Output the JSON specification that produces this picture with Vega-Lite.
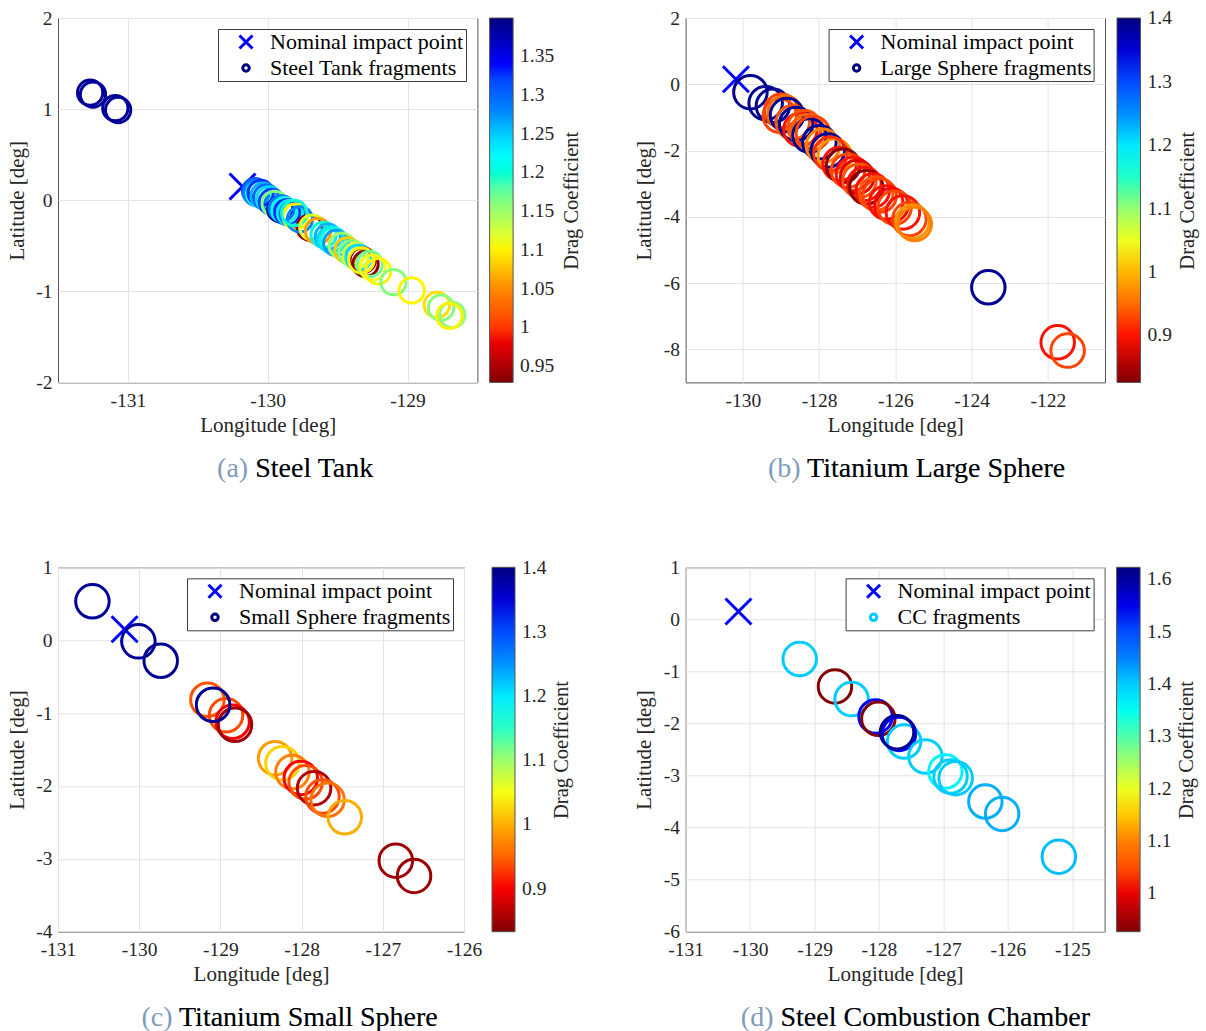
{
  "$schema": "https://vega.github.io/schema/vega-lite/v6.json",
  "background": "white",
  "padding": {"left": 5, "top": 7, "right": 5, "bottom": 5},
  "columns": 2,
  "spacing": {"row": 184.3, "column": 207.6},
  "bounds": "flush",
  "align": "all",
  "resolve": {
    "scale": {"x": "independent", "y": "independent", "stroke": "independent", "color": "independent", "shape": "independent"},
    "legend": {"stroke": "independent", "color": "independent", "shape": "independent"}
  },
  "config": {
    "font": "Liberation Serif",
    "view": {"stroke": "#555555", "strokeWidth": 1},
    "axis": {
      "grid": true, "gridColor": "#e3e3e3", "gridWidth": 1,
      "domain": false, "ticks": false,
      "labelFont": "Liberation Serif", "labelFontSize": 19.5, "labelColor": "#262626",
      "labelFlush": false, "labelOverlap": false,
      "labelExpr": "toString(datum.value)",
      "titleFont": "Liberation Serif", "titleFontSize": 21, "titleFontWeight": "normal", "titleColor": "#262626"
    },
    "axisX": {"labelPadding": 9, "titleY": 49.3, "titleBaseline": "alphabetic"},
    "axisY": {"labelPadding": 6, "titleX": -35, "titleBaseline": "alphabetic"},
    "legend": {
      "labelFont": "Liberation Serif", "labelColor": "#000000"
    },
    "title": {"font": "Liberation Serif", "fontSize": 28, "fontWeight": "normal", "color": "#7f9bbb", "subtitleFont": "Liberation Serif", "subtitleFontSize": 28, "subtitleColor": "#000000", "subtitlePadding": -28, "orient": "bottom", "anchor": "middle", "frame": "bounds", "offset": 19}
  },
  "concat": [
    {
      "width": 419.4, "height": 364.4,
      "title": {"text": "(a) Steel Tank", "subtitle": "Steel Tank", "dx": 79.3, "align": "right"},
      "resolve": {"axis": {"y": "independent"}},
      "encoding": {
        "x": {"field": "lon", "type": "quantitative", "scale": {"domain": [-131.5, -128.5], "nice": false, "zero": false}, "axis": {"values": [-131, -130, -129], "title": "Longitude [deg]", "grid": true}},
        "shape": {"field": "kind", "type": "nominal",
          "scale": {"domain": ["Nominal impact point", "Steel Tank fragments"], "range": ["M-1,-1L1,1M-1,1L1,-1", "M0.5,0A0.5,0.5,0,1,1,-0.5,0A0.5,0.5,0,1,1,0.5,0Z"]},
          "legend": {"title": null, "orient": "top-right", "offset": 11, "padding": 2, "strokeColor": "#3c3c3c", "fillColor": "white",
            "labelFontSize": 22, "labelLimit": 500, "symbolSize": 169, "symbolStrokeWidth": 3, "symbolOffset": 15, "labelOffset": 13, "rowPadding": 2}}
      },
      "layer": [
        {"data": {"values": [{"lon": -130.18, "lat": 0.15, "kind": "Nominal impact point"}]},
         "mark": {"type": "point", "filled": false, "strokeWidth": 3, "size": 676, "opacity": 1},
         "encoding": {
           "y": {"field": "lat", "type": "quantitative", "scale": {"domain": [-2, 2], "nice": false, "zero": false},
             "axis": {"orient": "right", "labels": false, "grid": false, "title": "Drag Coefficient", "titleAngle": 270, "titleX": 100, "titleBaseline": "alphabetic", "titleFontSize": 20.5}},
           "stroke": {"field": "kind", "type": "nominal",
             "scale": {"domain": ["Nominal impact point", "Steel Tank fragments"], "range": ["#0000ff", "#000080"]},
             "legend": {"title": null, "orient": "top-right", "offset": 11, "padding": 2, "strokeColor": "#3c3c3c", "fillColor": "white",
               "labelFontSize": 22, "labelLimit": 500, "symbolSize": 169, "symbolStrokeWidth": 3, "symbolOffset": 15, "labelOffset": 13, "rowPadding": 2}}
         }},
        {"data": {"values": [
          {"lon": -131.27, "lat": 1.18, "cd": 1.39, "kind": "Steel Tank fragments"},
          {"lon": -131.25, "lat": 1.16, "cd": 1.385, "kind": "Steel Tank fragments"},
          {"lon": -131.09, "lat": 1.01, "cd": 1.39, "kind": "Steel Tank fragments"},
          {"lon": -131.07, "lat": 0.99, "cd": 1.385, "kind": "Steel Tank fragments"},
          {"lon": -130.09, "lat": 0.10, "cd": 1.31, "kind": "Steel Tank fragments"},
          {"lon": -130.08, "lat": 0.08, "cd": 1.28, "kind": "Steel Tank fragments"},
          {"lon": -130.06, "lat": 0.07, "cd": 1.22, "kind": "Steel Tank fragments"},
          {"lon": -130.05, "lat": 0.08, "cd": 1.33, "kind": "Steel Tank fragments"},
          {"lon": -130.03, "lat": 0.05, "cd": 1.26, "kind": "Steel Tank fragments"},
          {"lon": -130.01, "lat": 0.03, "cd": 1.30, "kind": "Steel Tank fragments"},
          {"lon": -129.99, "lat": 0.01, "cd": 1.24, "kind": "Steel Tank fragments"},
          {"lon": -129.97, "lat": -0.02, "cd": 1.32, "kind": "Steel Tank fragments"},
          {"lon": -129.95, "lat": -0.04, "cd": 1.16, "kind": "Steel Tank fragments"},
          {"lon": -129.91, "lat": -0.10, "cd": 1.39, "kind": "Steel Tank fragments"},
          {"lon": -129.90, "lat": -0.09, "cd": 1.29, "kind": "Steel Tank fragments"},
          {"lon": -129.88, "lat": -0.11, "cd": 1.21, "kind": "Steel Tank fragments"},
          {"lon": -129.86, "lat": -0.13, "cd": 1.33, "kind": "Steel Tank fragments"},
          {"lon": -129.84, "lat": -0.14, "cd": 1.23, "kind": "Steel Tank fragments"},
          {"lon": -129.82, "lat": -0.15, "cd": 1.30, "kind": "Steel Tank fragments"},
          {"lon": -129.80, "lat": -0.18, "cd": 1.10, "kind": "Steel Tank fragments"},
          {"lon": -129.70, "lat": -0.30, "cd": 0.935, "kind": "Steel Tank fragments"},
          {"lon": -129.77, "lat": -0.21, "cd": 1.28, "kind": "Steel Tank fragments"},
          {"lon": -129.81, "lat": -0.14, "cd": 1.20, "kind": "Steel Tank fragments"},
          {"lon": -129.68, "lat": -0.30, "cd": 1.12, "kind": "Steel Tank fragments"},
          {"lon": -129.64, "lat": -0.34, "cd": 1.06, "kind": "Steel Tank fragments"},
          {"lon": -129.60, "lat": -0.38, "cd": 1.20, "kind": "Steel Tank fragments"},
          {"lon": -129.57, "lat": -0.40, "cd": 1.26, "kind": "Steel Tank fragments"},
          {"lon": -129.55, "lat": -0.43, "cd": 1.24, "kind": "Steel Tank fragments"},
          {"lon": -129.53, "lat": -0.44, "cd": 1.21, "kind": "Steel Tank fragments"},
          {"lon": -129.51, "lat": -0.47, "cd": 1.27, "kind": "Steel Tank fragments"},
          {"lon": -129.47, "lat": -0.50, "cd": 1.15, "kind": "Steel Tank fragments"},
          {"lon": -129.43, "lat": -0.55, "cd": 1.08, "kind": "Steel Tank fragments"},
          {"lon": -129.40, "lat": -0.58, "cd": 1.16, "kind": "Steel Tank fragments"},
          {"lon": -129.37, "lat": -0.61, "cd": 1.12, "kind": "Steel Tank fragments"},
          {"lon": -129.35, "lat": -0.63, "cd": 1.24, "kind": "Steel Tank fragments"},
          {"lon": -129.30, "lat": -0.70, "cd": 0.935, "kind": "Steel Tank fragments"},
          {"lon": -129.32, "lat": -0.66, "cd": 0.94, "kind": "Steel Tank fragments"},
          {"lon": -129.33, "lat": -0.66, "cd": 1.10, "kind": "Steel Tank fragments"},
          {"lon": -129.27, "lat": -0.70, "cd": 1.17, "kind": "Steel Tank fragments"},
          {"lon": -129.25, "lat": -0.74, "cd": 1.11, "kind": "Steel Tank fragments"},
          {"lon": -129.21, "lat": -0.78, "cd": 1.10, "kind": "Steel Tank fragments"},
          {"lon": -129.10, "lat": -0.90, "cd": 1.16, "kind": "Steel Tank fragments"},
          {"lon": -128.97, "lat": -0.99, "cd": 1.10, "kind": "Steel Tank fragments"},
          {"lon": -128.79, "lat": -1.15, "cd": 1.09, "kind": "Steel Tank fragments"},
          {"lon": -128.76, "lat": -1.18, "cd": 1.16, "kind": "Steel Tank fragments"},
          {"lon": -128.68, "lat": -1.26, "cd": 1.16, "kind": "Steel Tank fragments"},
          {"lon": -128.70, "lat": -1.27, "cd": 1.10, "kind": "Steel Tank fragments"}
         ]},
         "mark": {"type": "point", "filled": false, "strokeWidth": 3, "size": 2560, "opacity": 1},
         "encoding": {
           "y": {"field": "lat", "type": "quantitative", "scale": {"domain": [-2, 2], "nice": false, "zero": false}, "axis": {"values": [-2, -1, 0, 1, 2], "title": "Latitude [deg]", "grid": true}},
           "color": {"field": "cd", "type": "quantitative",
             "scale": {"domain": [0.929, 0.98775, 1.0465, 1.10525, 1.164, 1.22275, 1.2815, 1.34025, 1.399], "range": ["#800000", "#ff0000", "#ff8000", "#ffff00", "#80ff80", "#00ffff", "#0080ff", "#0000ff", "#000080"], "nice": false, "zero": false},
             "legend": {"type": "gradient", "direction": "vertical", "orient": "none", "legendX": 431.6, "legendY": 0, "padding": 0, "title": null,
               "gradientLength": 364.4, "gradientThickness": 23.5, "gradientStrokeColor": "#555555", "gradientStrokeWidth": 1,
               "values": [0.95, 1, 1.05, 1.1, 1.15, 1.2, 1.25, 1.3, 1.35],
               "labelExpr": "toString(datum.value)", "labelFontSize": 19.5, "labelColor": "#262626", "labelOffset": 7, "labelOverlap": false}}
         }}
      ]
    },
    {
      "width": 419.4, "height": 364.4,
      "title": {"text": "(b) Titanium Large Sphere", "subtitle": "Titanium Large Sphere", "dx": 149.7, "align": "right"},
      "resolve": {"axis": {"y": "independent"}},
      "encoding": {
        "x": {"field": "lon", "type": "quantitative", "scale": {"domain": [-131.5, -120.5], "nice": false, "zero": false}, "axis": {"values": [-130, -128, -126, -124, -122], "title": "Longitude [deg]", "grid": true}},
        "shape": {"field": "kind", "type": "nominal",
          "scale": {"domain": ["Nominal impact point", "Large Sphere fragments"], "range": ["M-1,-1L1,1M-1,1L1,-1", "M0.5,0A0.5,0.5,0,1,1,-0.5,0A0.5,0.5,0,1,1,0.5,0Z"]},
          "legend": {"title": null, "orient": "top-right", "offset": 11, "padding": 2, "strokeColor": "#3c3c3c", "fillColor": "white",
            "labelFontSize": 22, "labelLimit": 500, "symbolSize": 169, "symbolStrokeWidth": 3, "symbolOffset": 15, "labelOffset": 13, "rowPadding": 2}}
      },
      "layer": [
        {"data": {"values": [{"lon": -130.18, "lat": 0.15, "kind": "Nominal impact point"}]},
         "mark": {"type": "point", "filled": false, "strokeWidth": 3, "size": 676, "opacity": 1},
         "encoding": {
           "y": {"field": "lat", "type": "quantitative", "scale": {"domain": [-9, 2], "nice": false, "zero": false},
             "axis": {"orient": "right", "labels": false, "grid": false, "title": "Drag Coefficient", "titleAngle": 270, "titleX": 88.1, "titleBaseline": "alphabetic", "titleFontSize": 20.5}},
           "stroke": {"field": "kind", "type": "nominal",
             "scale": {"domain": ["Nominal impact point", "Large Sphere fragments"], "range": ["#0000ff", "#000080"]},
             "legend": {"title": null, "orient": "top-right", "offset": 11, "padding": 2, "strokeColor": "#3c3c3c", "fillColor": "white",
               "labelFontSize": 22, "labelLimit": 500, "symbolSize": 169, "symbolStrokeWidth": 3, "symbolOffset": 15, "labelOffset": 13, "rowPadding": 2}}
         }},
        {"data": {"values": [
          {"lon": -129.80, "lat": -0.24, "cd": 1.39, "kind": "Large Sphere fragments"},
          {"lon": -129.40, "lat": -0.57, "cd": 1.39, "kind": "Large Sphere fragments"},
          {"lon": -129.21, "lat": -0.65, "cd": 1.39, "kind": "Large Sphere fragments"},
          {"lon": -129.03, "lat": -0.95, "cd": 0.92, "kind": "Large Sphere fragments"},
          {"lon": -128.99, "lat": -0.80, "cd": 0.92, "kind": "Large Sphere fragments"},
          {"lon": -128.90, "lat": -0.85, "cd": 0.95, "kind": "Large Sphere fragments"},
          {"lon": -128.84, "lat": -0.93, "cd": 1.39, "kind": "Large Sphere fragments"},
          {"lon": -128.69, "lat": -1.15, "cd": 0.93, "kind": "Large Sphere fragments"},
          {"lon": -128.60, "lat": -1.20, "cd": 1.39, "kind": "Large Sphere fragments"},
          {"lon": -128.49, "lat": -1.37, "cd": 0.90, "kind": "Large Sphere fragments"},
          {"lon": -128.38, "lat": -1.30, "cd": 0.93, "kind": "Large Sphere fragments"},
          {"lon": -128.30, "lat": -1.42, "cd": 0.94, "kind": "Large Sphere fragments"},
          {"lon": -128.25, "lat": -1.55, "cd": 1.39, "kind": "Large Sphere fragments"},
          {"lon": -128.16, "lat": -1.47, "cd": 0.92, "kind": "Large Sphere fragments"},
          {"lon": -127.99, "lat": -1.75, "cd": 1.39, "kind": "Large Sphere fragments"},
          {"lon": -127.90, "lat": -1.86, "cd": 0.97, "kind": "Large Sphere fragments"},
          {"lon": -127.77, "lat": -2.00, "cd": 1.39, "kind": "Large Sphere fragments"},
          {"lon": -127.59, "lat": -2.16, "cd": 0.98, "kind": "Large Sphere fragments"},
          {"lon": -127.70, "lat": -2.10, "cd": 0.91, "kind": "Large Sphere fragments"},
          {"lon": -127.46, "lat": -2.41, "cd": 0.90, "kind": "Large Sphere fragments"},
          {"lon": -127.37, "lat": -2.46, "cd": 0.83, "kind": "Large Sphere fragments"},
          {"lon": -127.24, "lat": -2.61, "cd": 0.92, "kind": "Large Sphere fragments"},
          {"lon": -127.11, "lat": -2.71, "cd": 0.90, "kind": "Large Sphere fragments"},
          {"lon": -127.00, "lat": -2.80, "cd": 0.88, "kind": "Large Sphere fragments"},
          {"lon": -126.94, "lat": -2.91, "cd": 0.93, "kind": "Large Sphere fragments"},
          {"lon": -126.81, "lat": -3.01, "cd": 0.90, "kind": "Large Sphere fragments"},
          {"lon": -126.76, "lat": -3.11, "cd": 0.83, "kind": "Large Sphere fragments"},
          {"lon": -126.59, "lat": -3.21, "cd": 0.90, "kind": "Large Sphere fragments"},
          {"lon": -126.50, "lat": -3.30, "cd": 0.93, "kind": "Large Sphere fragments"},
          {"lon": -126.41, "lat": -3.36, "cd": 0.92, "kind": "Large Sphere fragments"},
          {"lon": -126.24, "lat": -3.57, "cd": 0.90, "kind": "Large Sphere fragments"},
          {"lon": -126.10, "lat": -3.65, "cd": 0.895, "kind": "Large Sphere fragments"},
          {"lon": -126.02, "lat": -3.72, "cd": 0.92, "kind": "Large Sphere fragments"},
          {"lon": -125.80, "lat": -3.87, "cd": 0.90, "kind": "Large Sphere fragments"},
          {"lon": -125.63, "lat": -4.07, "cd": 0.92, "kind": "Large Sphere fragments"},
          {"lon": -125.55, "lat": -4.15, "cd": 0.98, "kind": "Large Sphere fragments"},
          {"lon": -125.49, "lat": -4.22, "cd": 0.97, "kind": "Large Sphere fragments"},
          {"lon": -123.56, "lat": -6.13, "cd": 1.39, "kind": "Large Sphere fragments"},
          {"lon": -121.74, "lat": -7.79, "cd": 0.90, "kind": "Large Sphere fragments"},
          {"lon": -121.48, "lat": -8.04, "cd": 0.92, "kind": "Large Sphere fragments"}
         ]},
         "mark": {"type": "point", "filled": false, "strokeWidth": 3, "size": 4489, "opacity": 1},
         "encoding": {
           "y": {"field": "lat", "type": "quantitative", "scale": {"domain": [-9, 2], "nice": false, "zero": false}, "axis": {"values": [-8, -6, -4, -2, 0, 2], "title": "Latitude [deg]", "grid": true}},
           "color": {"field": "cd", "type": "quantitative",
             "scale": {"domain": [0.826, 0.89775, 0.9695, 1.04125, 1.113, 1.18475, 1.2565, 1.32825, 1.4005], "range": ["#800000", "#ff0000", "#ff8000", "#ffff00", "#80ff80", "#00ffff", "#0080ff", "#0000ff", "#000080"], "nice": false, "zero": false},
             "legend": {"type": "gradient", "direction": "vertical", "orient": "none", "legendX": 431.4, "legendY": 0, "padding": 0, "title": null,
               "gradientLength": 364.4, "gradientThickness": 23.5, "gradientStrokeColor": "#555555", "gradientStrokeWidth": 1,
               "values": [0.9, 1, 1.1, 1.2, 1.3, 1.4],
               "labelExpr": "toString(datum.value)", "labelFontSize": 19.5, "labelColor": "#262626", "labelOffset": 7, "labelOverlap": false}}
         }}
      ]
    },
    {
      "width": 406, "height": 364.4,
      "title": {"text": "(c) Titanium Small Sphere", "subtitle": "Titanium Small Sphere", "dx": 149, "align": "right"},
      "resolve": {"axis": {"y": "independent"}},
      "encoding": {
        "x": {"field": "lon", "type": "quantitative", "scale": {"domain": [-131, -126], "nice": false, "zero": false}, "axis": {"values": [-131, -130, -129, -128, -127, -126], "title": "Longitude [deg]", "grid": true}},
        "shape": {"field": "kind", "type": "nominal",
          "scale": {"domain": ["Nominal impact point", "Small Sphere fragments"], "range": ["M-1,-1L1,1M-1,1L1,-1", "M0.5,0A0.5,0.5,0,1,1,-0.5,0A0.5,0.5,0,1,1,0.5,0Z"]},
          "legend": {"title": null, "orient": "top-right", "offset": 11, "padding": 2, "strokeColor": "#3c3c3c", "fillColor": "white",
            "labelFontSize": 22, "labelLimit": 500, "symbolSize": 169, "symbolStrokeWidth": 3, "symbolOffset": 15, "labelOffset": 13, "rowPadding": 2}}
      },
      "layer": [
        {"data": {"values": [{"lon": -130.18, "lat": 0.15, "kind": "Nominal impact point"}]},
         "mark": {"type": "point", "filled": false, "strokeWidth": 3, "size": 676, "opacity": 1},
         "encoding": {
           "y": {"field": "lat", "type": "quantitative", "scale": {"domain": [-4, 1], "nice": false, "zero": false},
             "axis": {"orient": "right", "labels": false, "grid": false, "title": "Drag Coefficient", "titleAngle": 270, "titleX": 103, "titleBaseline": "alphabetic", "titleFontSize": 20.5}},
           "stroke": {"field": "kind", "type": "nominal",
             "scale": {"domain": ["Nominal impact point", "Small Sphere fragments"], "range": ["#0000ff", "#000080"]},
             "legend": {"title": null, "orient": "top-right", "offset": 11, "padding": 2, "strokeColor": "#3c3c3c", "fillColor": "white",
               "labelFontSize": 22, "labelLimit": 500, "symbolSize": 169, "symbolStrokeWidth": 3, "symbolOffset": 15, "labelOffset": 13, "rowPadding": 2}}
         }},
        {"data": {"values": [
          {"lon": -130.576, "lat": 0.533, "cd": 1.385, "kind": "Small Sphere fragments"},
          {"lon": -130.01, "lat": -0.016, "cd": 1.385, "kind": "Small Sphere fragments"},
          {"lon": -129.735, "lat": -0.282, "cd": 1.39, "kind": "Small Sphere fragments"},
          {"lon": -129.16, "lat": -0.817, "cd": 0.935, "kind": "Small Sphere fragments"},
          {"lon": -128.93, "lat": -1.03, "cd": 0.93, "kind": "Small Sphere fragments"},
          {"lon": -128.85, "lat": -1.12, "cd": 0.90, "kind": "Small Sphere fragments"},
          {"lon": -128.82, "lat": -1.16, "cd": 0.85, "kind": "Small Sphere fragments"},
          {"lon": -129.09, "lat": -0.886, "cd": 1.39, "kind": "Small Sphere fragments"},
          {"lon": -128.327, "lat": -1.619, "cd": 0.99, "kind": "Small Sphere fragments"},
          {"lon": -128.236, "lat": -1.688, "cd": 1.02, "kind": "Small Sphere fragments"},
          {"lon": -128.113, "lat": -1.81, "cd": 0.975, "kind": "Small Sphere fragments"},
          {"lon": -128.01, "lat": -1.89, "cd": 0.90, "kind": "Small Sphere fragments"},
          {"lon": -127.95, "lat": -1.95, "cd": 0.93, "kind": "Small Sphere fragments"},
          {"lon": -127.846, "lat": -2.03, "cd": 0.86, "kind": "Small Sphere fragments"},
          {"lon": -127.743, "lat": -2.146, "cd": 0.93, "kind": "Small Sphere fragments"},
          {"lon": -127.68, "lat": -2.19, "cd": 0.96, "kind": "Small Sphere fragments"},
          {"lon": -127.468, "lat": -2.43, "cd": 1.0, "kind": "Small Sphere fragments"},
          {"lon": -126.84, "lat": -3.025, "cd": 0.85, "kind": "Small Sphere fragments"},
          {"lon": -126.615, "lat": -3.235, "cd": 0.85, "kind": "Small Sphere fragments"}
         ]},
         "mark": {"type": "point", "filled": false, "strokeWidth": 3, "size": 4489, "opacity": 1},
         "encoding": {
           "y": {"field": "lat", "type": "quantitative", "scale": {"domain": [-4, 1], "nice": false, "zero": false}, "axis": {"values": [-4, -3, -2, -1, 0, 1], "title": "Latitude [deg]", "grid": true}},
           "color": {"field": "cd", "type": "quantitative",
             "scale": {"domain": [0.833, 0.903875, 0.97475, 1.045625, 1.1165, 1.187375, 1.25825, 1.329125, 1.4005], "range": ["#800000", "#ff0000", "#ff8000", "#ffff00", "#80ff80", "#00ffff", "#0080ff", "#0000ff", "#000080"], "nice": false, "zero": false},
             "legend": {"type": "gradient", "direction": "vertical", "orient": "none", "legendX": 434, "legendY": 0, "padding": 0, "title": null,
               "gradientLength": 364.4, "gradientThickness": 23, "gradientStrokeColor": "#555555", "gradientStrokeWidth": 1,
               "values": [0.9, 1, 1.1, 1.2, 1.3, 1.4],
               "labelExpr": "toString(datum.value)", "labelFontSize": 19.5, "labelColor": "#262626", "labelOffset": 7, "labelOverlap": false}}
         }}
      ]
    },
    {
      "width": 419, "height": 364.4,
      "title": {"text": "(d) Steel Combustion Chamber", "subtitle": "Steel Combustion Chamber", "dx": 174.6, "align": "right"},
      "resolve": {"axis": {"y": "independent"}},
      "encoding": {
        "x": {"field": "lon", "type": "quantitative", "scale": {"domain": [-131, -124.5], "nice": false, "zero": false}, "axis": {"values": [-131, -130, -129, -128, -127, -126, -125], "title": "Longitude [deg]", "grid": true}},
        "shape": {"field": "kind", "type": "nominal",
          "scale": {"domain": ["Nominal impact point", "CC fragments"], "range": ["M-1,-1L1,1M-1,1L1,-1", "M0.5,0A0.5,0.5,0,1,1,-0.5,0A0.5,0.5,0,1,1,0.5,0Z"]},
          "legend": {"title": null, "orient": "top-right", "offset": 11, "padding": 2, "strokeColor": "#3c3c3c", "fillColor": "white",
            "labelFontSize": 22, "labelLimit": 500, "symbolSize": 169, "symbolStrokeWidth": 3, "symbolOffset": 15, "labelOffset": 13, "rowPadding": 2}}
      },
      "layer": [
        {"data": {"values": [{"lon": -130.18, "lat": 0.15, "kind": "Nominal impact point"}]},
         "mark": {"type": "point", "filled": false, "strokeWidth": 3, "size": 676, "opacity": 1},
         "encoding": {
           "y": {"field": "lat", "type": "quantitative", "scale": {"domain": [-6, 1], "nice": false, "zero": false},
             "axis": {"orient": "right", "labels": false, "grid": false, "title": "Drag Coefficient", "titleAngle": 270, "titleX": 88.1, "titleBaseline": "alphabetic", "titleFontSize": 20.5}},
           "stroke": {"field": "kind", "type": "nominal",
             "scale": {"domain": ["Nominal impact point", "CC fragments"], "range": ["#0000ff", "#00c8ff"]},
             "legend": {"title": null, "orient": "top-right", "offset": 11, "padding": 2, "strokeColor": "#3c3c3c", "fillColor": "white",
               "labelFontSize": 22, "labelLimit": 500, "symbolSize": 169, "symbolStrokeWidth": 3, "symbolOffset": 15, "labelOffset": 13, "rowPadding": 2}}
         }},
        {"data": {"values": [
          {"lon": -129.23, "lat": -0.763, "cd": 1.40, "kind": "CC fragments"},
          {"lon": -128.683, "lat": -1.288, "cd": 0.93, "kind": "CC fragments"},
          {"lon": -128.425, "lat": -1.532, "cd": 1.40, "kind": "CC fragments"},
          {"lon": -128.053, "lat": -1.865, "cd": 1.54, "kind": "CC fragments"},
          {"lon": -128.01, "lat": -1.91, "cd": 0.93, "kind": "CC fragments"},
          {"lon": -127.61, "lat": -2.346, "cd": 1.40, "kind": "CC fragments"},
          {"lon": -127.69, "lat": -2.20, "cd": 1.54, "kind": "CC fragments"},
          {"lon": -127.72, "lat": -2.167, "cd": 1.61, "kind": "CC fragments"},
          {"lon": -127.28, "lat": -2.635, "cd": 1.40, "kind": "CC fragments"},
          {"lon": -126.97, "lat": -2.923, "cd": 1.37, "kind": "CC fragments"},
          {"lon": -126.89, "lat": -3.02, "cd": 1.40, "kind": "CC fragments"},
          {"lon": -126.81, "lat": -3.05, "cd": 1.40, "kind": "CC fragments"},
          {"lon": -126.35, "lat": -3.50, "cd": 1.42, "kind": "CC fragments"},
          {"lon": -126.09, "lat": -3.737, "cd": 1.42, "kind": "CC fragments"},
          {"lon": -125.21, "lat": -4.558, "cd": 1.41, "kind": "CC fragments"}
         ]},
         "mark": {"type": "point", "filled": false, "strokeWidth": 3, "size": 4489, "opacity": 1},
         "encoding": {
           "y": {"field": "lat", "type": "quantitative", "scale": {"domain": [-6, 1], "nice": false, "zero": false}, "axis": {"values": [-6, -5, -4, -3, -2, -1, 0, 1], "title": "Latitude [deg]", "grid": true}},
           "color": {"field": "cd", "type": "quantitative",
             "scale": {"domain": [0.927, 1.014, 1.101, 1.188, 1.275, 1.362, 1.449, 1.536, 1.623], "range": ["#800000", "#ff0000", "#ff8000", "#ffff00", "#80ff80", "#00ffff", "#0080ff", "#0000ff", "#000080"], "nice": false, "zero": false},
             "legend": {"type": "gradient", "direction": "vertical", "orient": "none", "legendX": 431, "legendY": 0, "padding": 0, "title": null,
               "gradientLength": 364.4, "gradientThickness": 23.5, "gradientStrokeColor": "#555555", "gradientStrokeWidth": 1,
               "values": [1, 1.1, 1.2, 1.3, 1.4, 1.5, 1.6],
               "labelExpr": "toString(datum.value)", "labelFontSize": 19.5, "labelColor": "#262626", "labelOffset": 7, "labelOverlap": false}}
         }}
      ]
    }
  ]
}
